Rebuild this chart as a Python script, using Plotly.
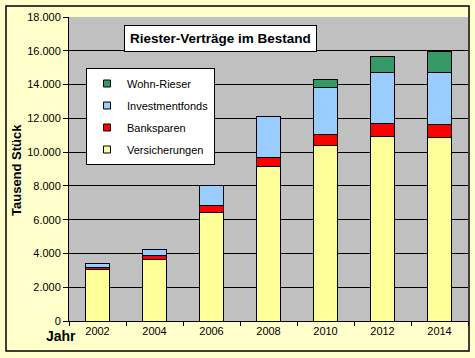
import plotly.graph_objects as go

years = ["2002", "2004", "2006", "2008", "2010", "2012", "2014"]
versicherungen = [3050, 3650, 6450, 9170, 10390, 10920, 10860]
banksparen = [130, 200, 370, 530, 650, 795, 795]
investmentfonds = [250, 355, 1225, 2405, 2780, 3015, 3080]
wohn_riester = [0, 0, 0, 0, 475, 945, 1220]

series = [
    ("Versicherungen", versicherungen, "#FFFF99"),
    ("Banksparen", banksparen, "#FF0000"),
    ("Investmentfonds", investmentfonds, "#99CCFF"),
    ("Wohn-Rieser", wohn_riester, "#339966"),
]

W, H = 475, 358
L, R, T, B = 69, 7, 17, 37
pw, ph = W - L - R, H - T - B

def px_x(x):
    return (x - L) / pw

def px_y(y):
    return (H - B - y) / ph

fig = go.Figure()
for name, vals, col in series:
    fig.add_trace(go.Bar(
        x=years, y=vals, name=name, showlegend=False,
        marker=dict(color=col, line=dict(color="black", width=1)),
    ))
# legend entries (top to bottom: Wohn-Rieser ... Versicherungen)
for name, vals, col in reversed(series):
    fig.add_trace(go.Scatter(
        x=[None], y=[None], mode="markers", name=name, legendgroup=name,
        marker=dict(symbol="square", size=7, color=col, line=dict(color="black", width=1)),
    ))

font = "Liberation Sans, Arial, sans-serif"
fig.update_layout(
    width=W, height=H,
    margin=dict(l=L, r=R, t=T, b=B),
    barmode="stack", bargap=0.59,
    paper_bgcolor="#FFFFCC", plot_bgcolor="#C0C0C0",
    separators=",.",
    font=dict(family=font, size=11, color="black"),
    showlegend=True,
    legend=dict(
        x=px_x(86), y=px_y(68), xanchor="left", yanchor="top",
        bgcolor="white", bordercolor="black", borderwidth=1,
        traceorder="grouped", font=dict(size=11, family=font),
        itemwidth=30, tracegroupgap=3,
    ),
    xaxis=dict(
        type="category", showline=True, linecolor="black", linewidth=1,
        ticks="outside", tickson="boundaries", ticklen=4, tickcolor="black",
        tickfont=dict(size=11), showgrid=False, mirror=False,
    ),
    yaxis=dict(
        range=[0, 18000], dtick=2000, tickformat=",d",
        showline=True, linecolor="black", linewidth=1,
        ticks="outside", ticklen=5, tickcolor="black",
        showgrid=True, gridcolor="black", gridwidth=1,
        tickfont=dict(size=11), zeroline=False,
    ),
    shapes=[
        dict(type="rect", xref="paper", yref="paper",
             x0=px_x(6), x1=px_x(469), y0=px_y(351), y1=px_y(6),
             line=dict(color="black", width=1.5), fillcolor="rgba(0,0,0,0)", layer="above"),
    ],
    annotations=[
        dict(text="<b>Riester-Verträge im Bestand</b>", xref="paper", yref="paper",
             x=px_x(220.5), y=px_y(39), xanchor="center", yanchor="middle",
             showarrow=False, font=dict(size=13.5, family=font),
             bgcolor="white", bordercolor="black", borderwidth=1, borderpad=5),
        dict(text="<b>Tausend Stück</b>", xref="paper", yref="paper",
             x=px_x(16), y=px_y(170), xanchor="center", yanchor="middle",
             textangle=-90, showarrow=False, font=dict(size=13, family=font)),
        dict(text="<b>Jahr</b>", xref="paper", yref="paper",
             x=px_x(61), y=px_y(336), xanchor="center", yanchor="middle",
             showarrow=False, font=dict(size=14, family=font)),
    ],
)

fig.write_html("out.html", config={"displayModeBar": False},
               post_script="document.body.style.margin='0px';document.body.style.overflow='hidden';")
